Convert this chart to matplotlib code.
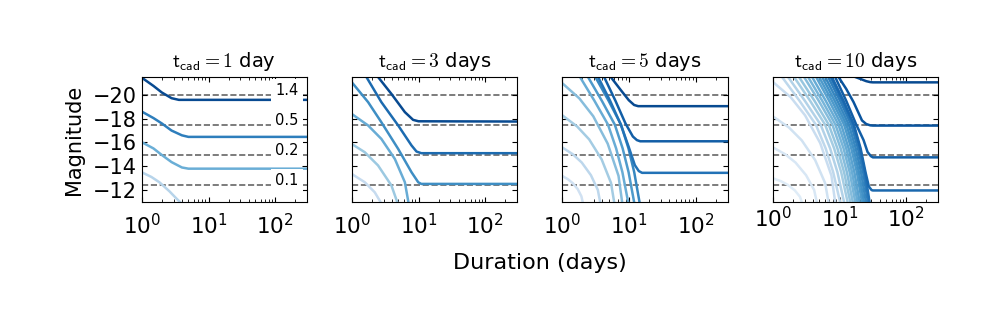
"""Magnitude vs. duration detection curves for four survey cadences."""

import numpy as np
import matplotlib
matplotlib.use('Agg')
import matplotlib.pyplot as plt

plt.rcParams['mathtext.fontset'] = 'cm'

CADENCES = ['1', '3', '5', '10']
CAD_UNITS = ['day', 'days', 'days', 'days']
LIMIT_MAGS = [-19.97, -17.47, -14.96, -12.44]
LIMIT_LABELS = ['1.4', '0.5', '0.2', '0.1']
Y_TICKS = [-20, -18, -16, -14, -12]

# t_cad = 1 day (lightest -> darkest)
P1_DUR = [
    [1.0, 1.4, 1.85, 2.6, 3.3, 3.9],
    [1.0, 1.5, 2.0, 2.8, 4.0, 5.0, 300],
    [1.0, 1.5, 2.0, 2.8, 4.0, 5.0, 300],
    [1.0, 1.5, 2.0, 2.8, 3.6, 300],
]
P1_MAG = [
    [-13.5, -13.1, -12.65, -11.9, -11.3, -10.9],
    [-16.03, -15.5, -14.95, -14.35, -13.9, -13.8, -13.8],
    [-18.6, -18.05, -17.6, -17.0, -16.6, -16.47, -16.47],
    [-21.45, -20.75, -20.2, -19.72, -19.58, -19.58],
]

# t_cad = 3 days
P2_DUR = [
    [1.0, 1.57, 2.21, 2.7],
    [1.0, 1.57, 2.48, 3.93, 4.8],
    [1.0, 1.76, 2.78, 4.42, 6.25, 7.05],
    [1.0, 1.76, 2.78, 4.96, 7.86, 9.9, 11.0, 300],
    [1.66, 2.78, 4.96, 7.86, 9.33, 11.0, 300],
    [2.48, 3.93, 6.25, 8.3, 10.0, 300],
]
P2_MAG = [
    [-13.36, -12.66, -11.82, -11.0],
    [-15.88, -15.18, -14.07, -12.39, -11.0],
    [-18.4, -17.43, -16.3, -14.62, -12.66, -11.0],
    [-21.07, -19.39, -17.7, -15.46, -13.5, -12.66, -12.52, -12.52],
    [-21.5, -19.39, -17.43, -15.75, -15.24, -15.1, -15.1],
    [-21.5, -20.08, -18.55, -17.9, -17.78, -17.76],
]

# t_cad = 5 days
P3_DUR = [
    [1.0, 1.23, 1.45, 1.72, 1.95, 2.04],
    [1.0, 1.46, 1.98, 2.71, 3.44, 3.72],
    [1.0, 1.68, 2.55, 3.92, 5.41, 6.03],
    [1.0, 1.82, 2.94, 4.83, 7.01, 7.94],
    [1.86, 3.06, 4.88, 6.46, 8.02, 9.77],
    [2.45, 3.95, 6.17, 8.09, 9.93, 12.0],
    [3.16, 4.99, 7.64, 9.89, 12.05, 14.45],
    [3.47, 5.25, 7.59, 10.0, 12.3, 14.1, 15.8, 300],
    [4.27, 6.31, 8.91, 11.5, 13.2, 14.8, 300],
    [5.37, 7.59, 10.0, 12.0, 13.8, 300],
]
P3_MAG = [
    [-13.2, -12.91, -12.58, -12.08, -11.48, -11.0],
    [-15.6, -15.0, -14.31, -13.25, -12.01, -11.0],
    [-18.3, -17.35, -16.26, -14.58, -12.61, -11.0],
    [-21.0, -19.7, -18.2, -15.9, -13.2, -11.0],
    [-21.5, -19.5, -17.5, -15.5, -13.5, -11.0],
    [-21.5, -19.5, -17.5, -15.5, -13.5, -11.0],
    [-21.5, -19.5, -17.5, -15.5, -13.5, -11.0],
    [-21.5, -19.5, -17.5, -15.6, -14.1, -13.6, -13.45, -13.45],
    [-21.5, -19.5, -17.6, -16.5, -16.2, -16.1, -16.1],
    [-21.5, -20.4, -19.55, -19.15, -19.05, -19.05],
]

# t_cad = 10 days
P4_DUR = [
    [1.0, 1.34, 1.68, 2.14, 2.56, 2.72],
    [1.0, 1.55, 2.2, 3.16, 4.17, 4.57],
    [1.0, 1.75, 2.72, 4.31, 6.1, 6.84],
    [1.0, 1.87, 3.06, 5.14, 7.57, 8.61],
    [1.38, 2.52, 4.42, 6.21, 8.05, 10.2],
    [1.70, 3.03, 5.21, 7.24, 9.31, 11.7],
    [2.09, 3.63, 6.08, 8.32, 10.6, 13.2],
    [2.48, 4.22, 6.90, 9.31, 11.7, 14.5],
    [2.95, 4.89, 7.82, 10.4, 12.9, 15.8],
    [3.39, 5.52, 8.69, 11.5, 14.2, 17.2],
    [3.89, 6.22, 9.64, 12.6, 15.4, 18.6],
    [4.47, 7.0, 10.6, 13.7, 16.7, 20.0],
    [4.95, 7.71, 11.7, 15.0, 18.2, 21.7],
    [5.5, 8.47, 12.7, 16.2, 19.5, 23.2],
    [6.1, 9.29, 13.8, 17.5, 21.0, 24.9],
    [6.76, 10.2, 15.0, 18.9, 22.6, 26.7],
    [7.38, 11.0, 16.1, 20.2, 24.0, 28.2],
    [7.69, 11.5, 16.4, 20.7, 24.5, 27.5, 30.2, 31.6, 300],
    [8.61, 12.6, 17.8, 22.9, 26.3, 29.5, 31.6, 300],
    [9.66, 12.6, 16.2, 21.7, 25.1, 28.8, 31.6, 300],
    [17.2, 21.4, 25.1, 28.8, 31.6, 300],
]
P4_MAG = [
    [-13.0, -12.74, -12.44, -11.98, -11.44, -11.0],
    [-15.6, -15.0, -14.31, -13.25, -12.01, -11.0],
    [-18.2, -17.26, -16.18, -14.53, -12.58, -11.0],
    [-21.1, -19.79, -18.27, -15.95, -13.22, -11.0],
] + [[-21.5, -19.5, -17.5, -15.5, -13.5, -11.0]] * 13 + [
    [-21.5, -19.5, -17.5, -15.5, -13.5, -12.3, -12.0, -11.97, -11.97],
    [-21.5, -19.5, -17.5, -16.2, -15.2, -14.85, -14.75, -14.75],
    [-21.5, -20.5, -19.4, -17.85, -17.55, -17.44, -17.42, -17.42],
    [-21.5, -21.3, -21.15, -21.07, -21.05, -21.05],
]

PANELS = [(P1_DUR, P1_MAG), (P2_DUR, P2_MAG), (P3_DUR, P3_MAG), (P4_DUR, P4_MAG)]
LIGHTEST = [0.3, 0.25, 0.2, 0.12]

fig = plt.figure(figsize=(9.81, 3.27), dpi=100)
lefts = [141.7, 351.7, 562.0, 772.7]

for k, (durs, mags) in enumerate(PANELS):
    ax = fig.add_axes([lefts[k] / 981, 1 - 202 / 327, 165.5 / 981, 125 / 327])
    for m in LIMIT_MAGS:
        ax.axhline(m, color='0.4', ls='--', lw=1.2, zorder=1)
    shades = np.linspace(LIGHTEST[k], 0.9, len(durs))
    for d, m, s in zip(durs, mags, shades):
        ax.plot(d, m, color=plt.cm.Blues(s), lw=1.8, zorder=2)
    ax.set_xscale('log')
    ax.set_xlim(1, 300)
    ax.set_ylim(-11, -21.5)
    ax.set_yticks(Y_TICKS)
    ax.tick_params(which='both', direction='in', top=True, right=True)
    ax.tick_params(which='major', length=3.5)
    ax.tick_params(which='minor', length=2)
    ax.tick_params(axis='x', labelsize=15.5, pad=3 if k == 3 else 8)
    ax.tick_params(axis='y', labelsize=15, pad=3.5)
    ax.set_title(r'$\mathsf{t_{cad}} = ' + CADENCES[k] + '$ ' + CAD_UNITS[k],
                 fontsize=14, pad=7)
    if k == 0:
        ax.set_ylabel('Magnitude', fontsize=15, labelpad=6)
        for m, lab in zip(LIMIT_MAGS, LIMIT_LABELS):
            ax.text(150, m, lab, ha='center', va='baseline', fontsize=10.5, zorder=3,
                    bbox=dict(facecolor='white', edgecolor='none', pad=3))
    else:
        ax.tick_params(labelleft=False)

fig.text(0.55, 0.195, 'Duration (days)', ha='center', va='center', fontsize=16)

fig.savefig('out.png', dpi=100)
